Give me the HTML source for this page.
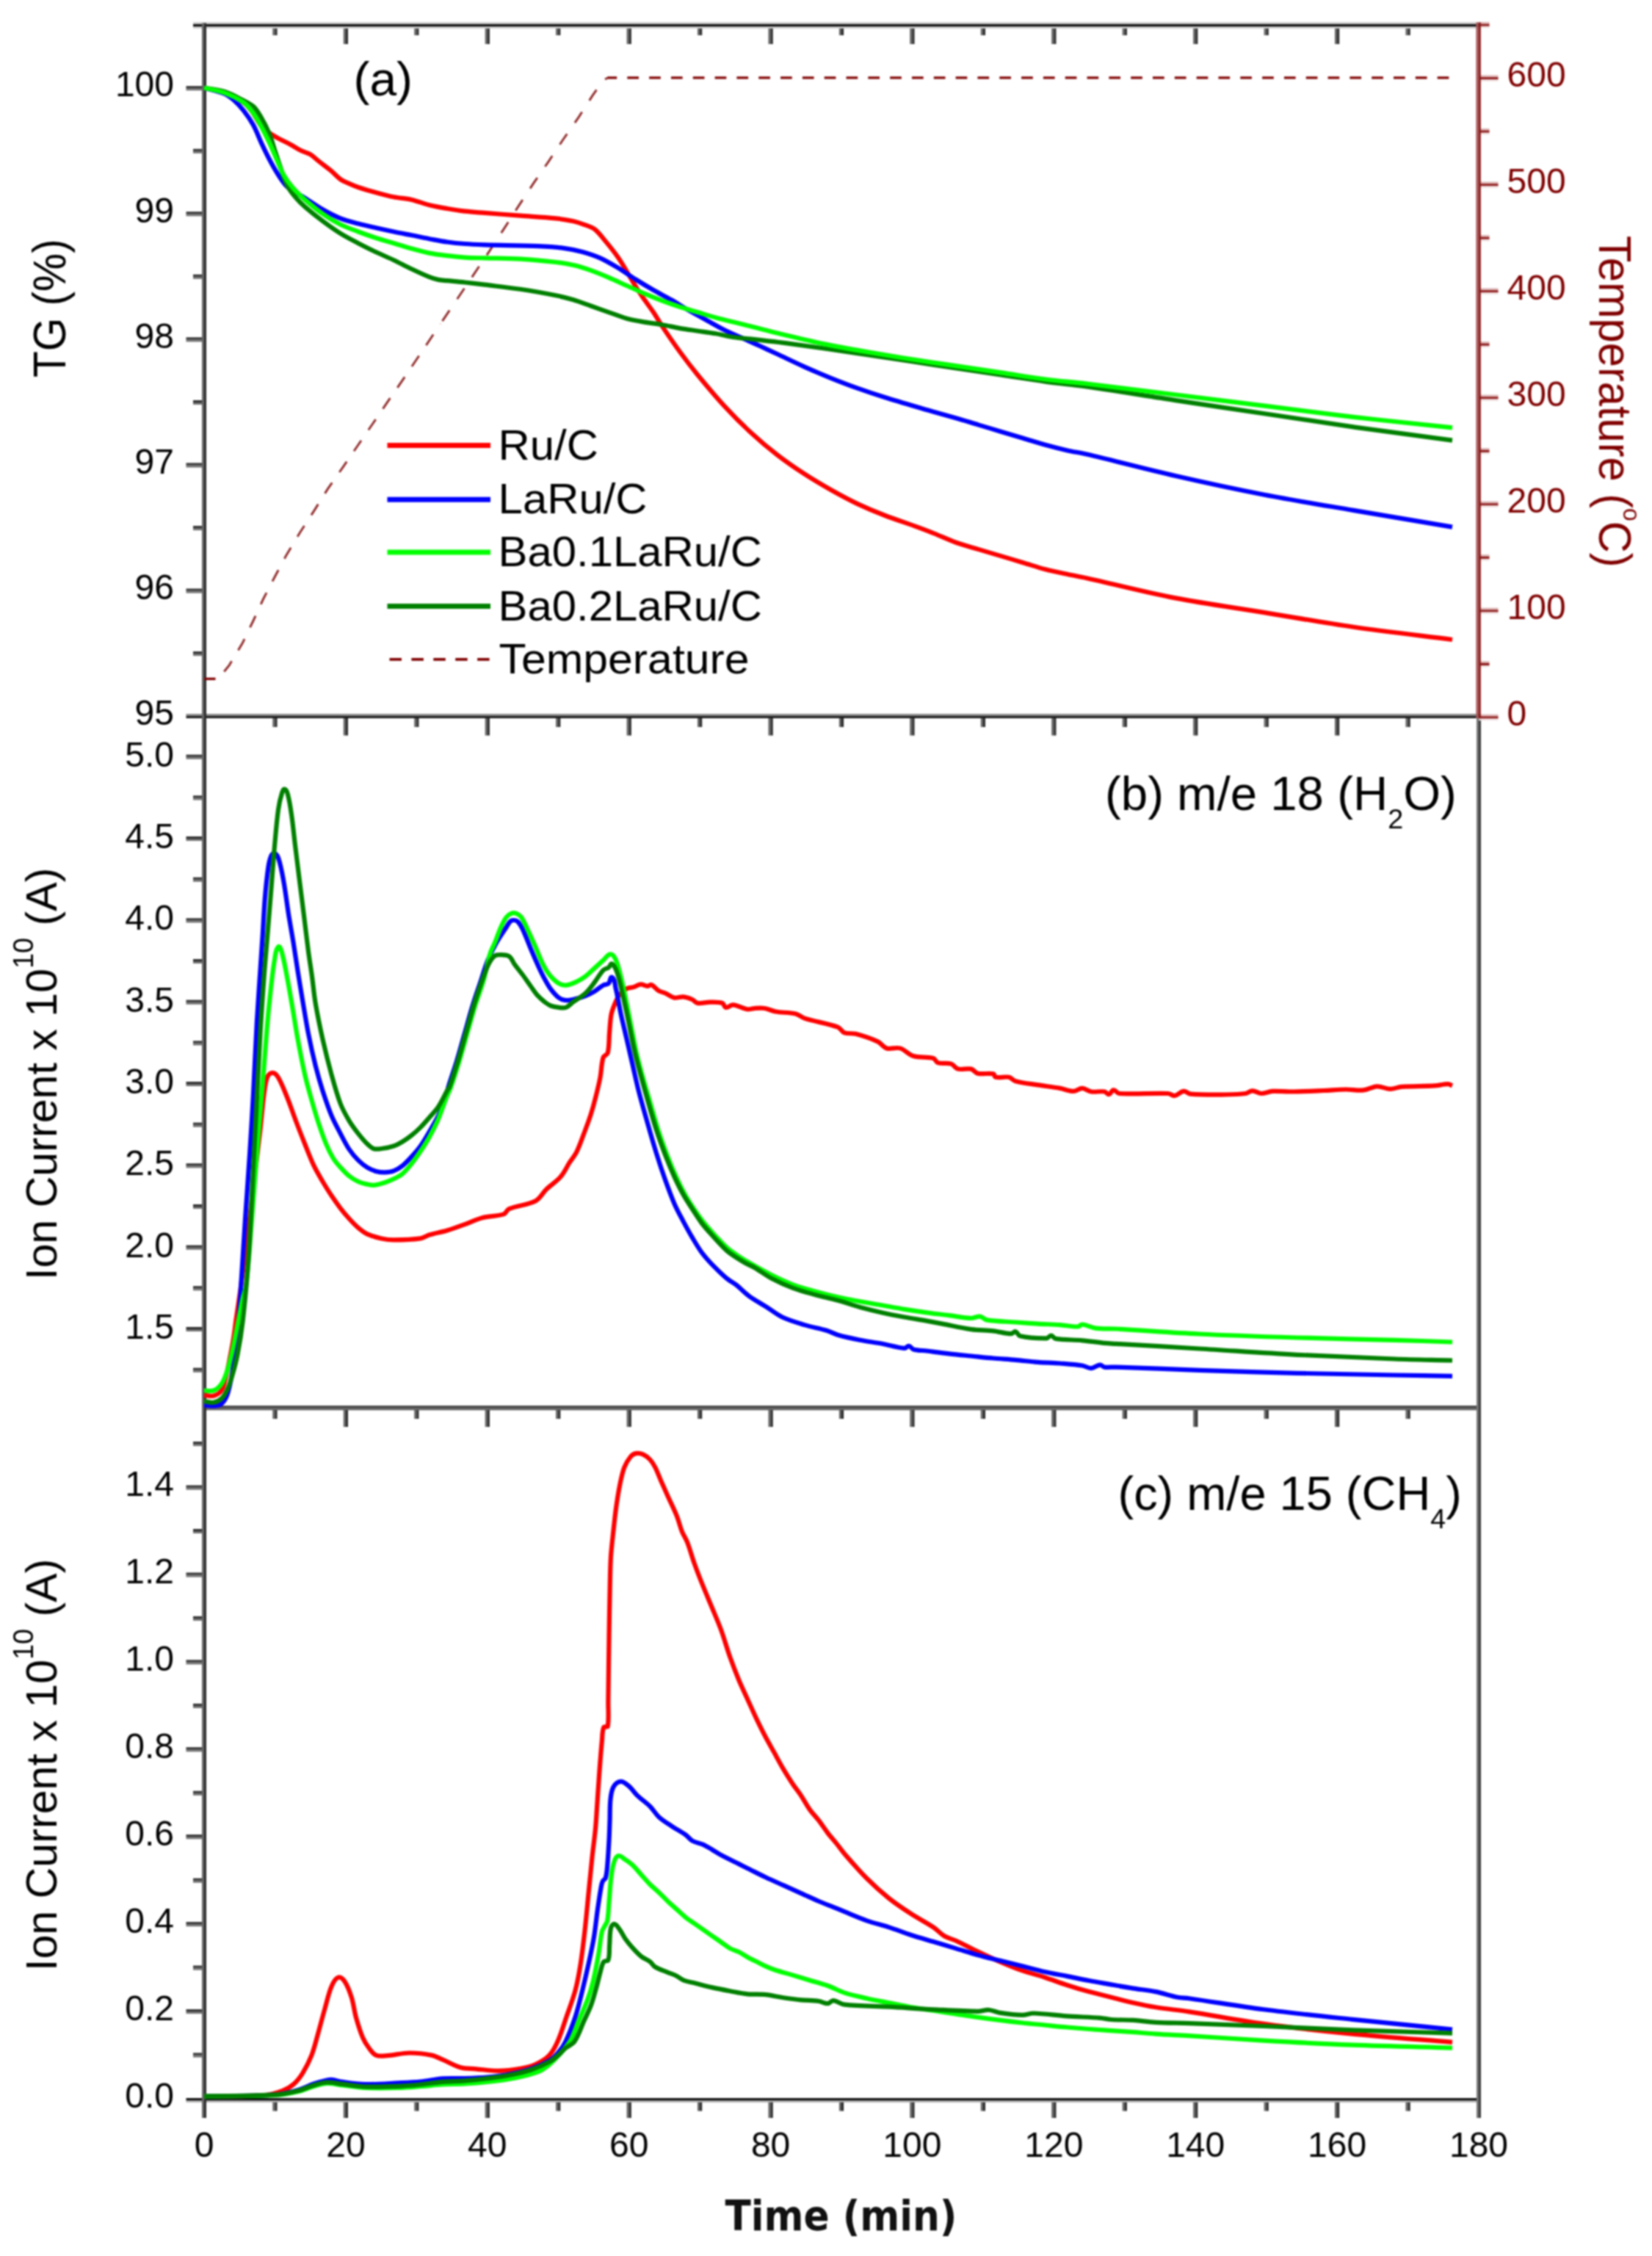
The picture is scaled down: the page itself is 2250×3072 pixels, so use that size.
<!DOCTYPE html>
<html lang="en">
<head>
<meta charset="utf-8">
<title>TG-MS profiles</title>
<style>
html,body{margin:0;padding:0;background:#fff;}
body{width:2250px;height:3072px;overflow:hidden;}
svg{display:block;filter:blur(0.8px);}
</style>
</head>
<body>
<svg width="2250" height="3072" viewBox="0 0 2250 3072">
<rect width="2250" height="3072" fill="#ffffff"/>
<g id="axes">
<rect x="371.3" y="34.5" width="3.1" height="13.5" fill="#646464"/>
<rect x="374.4" y="34.5" width="3.1" height="13.5" fill="#2a2a2a"/>
<rect x="467.8" y="34.5" width="3.1" height="25.5" fill="#646464"/>
<rect x="470.9" y="34.5" width="3.1" height="25.5" fill="#2a2a2a"/>
<rect x="564.2" y="34.5" width="3.1" height="13.5" fill="#646464"/>
<rect x="567.3" y="34.5" width="3.1" height="13.5" fill="#2a2a2a"/>
<rect x="660.7" y="34.5" width="3.1" height="25.5" fill="#646464"/>
<rect x="663.8" y="34.5" width="3.1" height="25.5" fill="#2a2a2a"/>
<rect x="757.1" y="34.5" width="3.1" height="13.5" fill="#646464"/>
<rect x="760.2" y="34.5" width="3.1" height="13.5" fill="#2a2a2a"/>
<rect x="853.6" y="34.5" width="3.1" height="25.5" fill="#646464"/>
<rect x="856.7" y="34.5" width="3.1" height="25.5" fill="#2a2a2a"/>
<rect x="950" y="34.5" width="3.1" height="13.5" fill="#646464"/>
<rect x="953.1" y="34.5" width="3.1" height="13.5" fill="#2a2a2a"/>
<rect x="1046.5" y="34.5" width="3.1" height="25.5" fill="#646464"/>
<rect x="1049.6" y="34.5" width="3.1" height="25.5" fill="#2a2a2a"/>
<rect x="1142.9" y="34.5" width="3.1" height="13.5" fill="#646464"/>
<rect x="1146" y="34.5" width="3.1" height="13.5" fill="#2a2a2a"/>
<rect x="1239.3" y="34.5" width="3.1" height="25.5" fill="#646464"/>
<rect x="1242.4" y="34.5" width="3.1" height="25.5" fill="#2a2a2a"/>
<rect x="1335.8" y="34.5" width="3.1" height="13.5" fill="#646464"/>
<rect x="1338.9" y="34.5" width="3.1" height="13.5" fill="#2a2a2a"/>
<rect x="1432.2" y="34.5" width="3.1" height="25.5" fill="#646464"/>
<rect x="1435.3" y="34.5" width="3.1" height="25.5" fill="#2a2a2a"/>
<rect x="1528.7" y="34.5" width="3.1" height="13.5" fill="#646464"/>
<rect x="1531.8" y="34.5" width="3.1" height="13.5" fill="#2a2a2a"/>
<rect x="1625.1" y="34.5" width="3.1" height="25.5" fill="#646464"/>
<rect x="1628.2" y="34.5" width="3.1" height="25.5" fill="#2a2a2a"/>
<rect x="1721.6" y="34.5" width="3.1" height="13.5" fill="#646464"/>
<rect x="1724.7" y="34.5" width="3.1" height="13.5" fill="#2a2a2a"/>
<rect x="1818" y="34.5" width="3.1" height="25.5" fill="#646464"/>
<rect x="1821.1" y="34.5" width="3.1" height="25.5" fill="#2a2a2a"/>
<rect x="1914.5" y="34.5" width="3.1" height="13.5" fill="#646464"/>
<rect x="1917.6" y="34.5" width="3.1" height="13.5" fill="#2a2a2a"/>
<rect x="371.3" y="975.5" width="3.1" height="14.5" fill="#646464"/>
<rect x="374.4" y="975.5" width="3.1" height="14.5" fill="#2a2a2a"/>
<rect x="467.8" y="975.5" width="3.1" height="26" fill="#646464"/>
<rect x="470.9" y="975.5" width="3.1" height="26" fill="#2a2a2a"/>
<rect x="564.2" y="975.5" width="3.1" height="14.5" fill="#646464"/>
<rect x="567.3" y="975.5" width="3.1" height="14.5" fill="#2a2a2a"/>
<rect x="660.7" y="975.5" width="3.1" height="26" fill="#646464"/>
<rect x="663.8" y="975.5" width="3.1" height="26" fill="#2a2a2a"/>
<rect x="757.1" y="975.5" width="3.1" height="14.5" fill="#646464"/>
<rect x="760.2" y="975.5" width="3.1" height="14.5" fill="#2a2a2a"/>
<rect x="853.6" y="975.5" width="3.1" height="26" fill="#646464"/>
<rect x="856.7" y="975.5" width="3.1" height="26" fill="#2a2a2a"/>
<rect x="950" y="975.5" width="3.1" height="14.5" fill="#646464"/>
<rect x="953.1" y="975.5" width="3.1" height="14.5" fill="#2a2a2a"/>
<rect x="1046.5" y="975.5" width="3.1" height="26" fill="#646464"/>
<rect x="1049.6" y="975.5" width="3.1" height="26" fill="#2a2a2a"/>
<rect x="1142.9" y="975.5" width="3.1" height="14.5" fill="#646464"/>
<rect x="1146" y="975.5" width="3.1" height="14.5" fill="#2a2a2a"/>
<rect x="1239.3" y="975.5" width="3.1" height="26" fill="#646464"/>
<rect x="1242.4" y="975.5" width="3.1" height="26" fill="#2a2a2a"/>
<rect x="1335.8" y="975.5" width="3.1" height="14.5" fill="#646464"/>
<rect x="1338.9" y="975.5" width="3.1" height="14.5" fill="#2a2a2a"/>
<rect x="1432.2" y="975.5" width="3.1" height="26" fill="#646464"/>
<rect x="1435.3" y="975.5" width="3.1" height="26" fill="#2a2a2a"/>
<rect x="1528.7" y="975.5" width="3.1" height="14.5" fill="#646464"/>
<rect x="1531.8" y="975.5" width="3.1" height="14.5" fill="#2a2a2a"/>
<rect x="1625.1" y="975.5" width="3.1" height="26" fill="#646464"/>
<rect x="1628.2" y="975.5" width="3.1" height="26" fill="#2a2a2a"/>
<rect x="1721.6" y="975.5" width="3.1" height="14.5" fill="#646464"/>
<rect x="1724.7" y="975.5" width="3.1" height="14.5" fill="#2a2a2a"/>
<rect x="1818" y="975.5" width="3.1" height="26" fill="#646464"/>
<rect x="1821.1" y="975.5" width="3.1" height="26" fill="#2a2a2a"/>
<rect x="1914.5" y="975.5" width="3.1" height="14.5" fill="#646464"/>
<rect x="1917.6" y="975.5" width="3.1" height="14.5" fill="#2a2a2a"/>
<rect x="371.3" y="1917" width="3.1" height="15" fill="#646464"/>
<rect x="374.4" y="1917" width="3.1" height="15" fill="#2a2a2a"/>
<rect x="467.8" y="1917" width="3.1" height="26" fill="#646464"/>
<rect x="470.9" y="1917" width="3.1" height="26" fill="#2a2a2a"/>
<rect x="564.2" y="1917" width="3.1" height="15" fill="#646464"/>
<rect x="567.3" y="1917" width="3.1" height="15" fill="#2a2a2a"/>
<rect x="660.7" y="1917" width="3.1" height="26" fill="#646464"/>
<rect x="663.8" y="1917" width="3.1" height="26" fill="#2a2a2a"/>
<rect x="757.1" y="1917" width="3.1" height="15" fill="#646464"/>
<rect x="760.2" y="1917" width="3.1" height="15" fill="#2a2a2a"/>
<rect x="853.6" y="1917" width="3.1" height="26" fill="#646464"/>
<rect x="856.7" y="1917" width="3.1" height="26" fill="#2a2a2a"/>
<rect x="950" y="1917" width="3.1" height="15" fill="#646464"/>
<rect x="953.1" y="1917" width="3.1" height="15" fill="#2a2a2a"/>
<rect x="1046.5" y="1917" width="3.1" height="26" fill="#646464"/>
<rect x="1049.6" y="1917" width="3.1" height="26" fill="#2a2a2a"/>
<rect x="1142.9" y="1917" width="3.1" height="15" fill="#646464"/>
<rect x="1146" y="1917" width="3.1" height="15" fill="#2a2a2a"/>
<rect x="1239.3" y="1917" width="3.1" height="26" fill="#646464"/>
<rect x="1242.4" y="1917" width="3.1" height="26" fill="#2a2a2a"/>
<rect x="1335.8" y="1917" width="3.1" height="15" fill="#646464"/>
<rect x="1338.9" y="1917" width="3.1" height="15" fill="#2a2a2a"/>
<rect x="1432.2" y="1917" width="3.1" height="26" fill="#646464"/>
<rect x="1435.3" y="1917" width="3.1" height="26" fill="#2a2a2a"/>
<rect x="1528.7" y="1917" width="3.1" height="15" fill="#646464"/>
<rect x="1531.8" y="1917" width="3.1" height="15" fill="#2a2a2a"/>
<rect x="1625.1" y="1917" width="3.1" height="26" fill="#646464"/>
<rect x="1628.2" y="1917" width="3.1" height="26" fill="#2a2a2a"/>
<rect x="1721.6" y="1917" width="3.1" height="15" fill="#646464"/>
<rect x="1724.7" y="1917" width="3.1" height="15" fill="#2a2a2a"/>
<rect x="1818" y="1917" width="3.1" height="26" fill="#646464"/>
<rect x="1821.1" y="1917" width="3.1" height="26" fill="#2a2a2a"/>
<rect x="1914.5" y="1917" width="3.1" height="15" fill="#646464"/>
<rect x="1917.6" y="1917" width="3.1" height="15" fill="#2a2a2a"/>
<rect x="371.3" y="2858" width="3.1" height="16.5" fill="#646464"/>
<rect x="374.4" y="2858" width="3.1" height="16.5" fill="#2a2a2a"/>
<rect x="467.8" y="2858" width="3.1" height="26" fill="#646464"/>
<rect x="470.9" y="2858" width="3.1" height="26" fill="#2a2a2a"/>
<rect x="564.2" y="2858" width="3.1" height="16.5" fill="#646464"/>
<rect x="567.3" y="2858" width="3.1" height="16.5" fill="#2a2a2a"/>
<rect x="660.7" y="2858" width="3.1" height="26" fill="#646464"/>
<rect x="663.8" y="2858" width="3.1" height="26" fill="#2a2a2a"/>
<rect x="757.1" y="2858" width="3.1" height="16.5" fill="#646464"/>
<rect x="760.2" y="2858" width="3.1" height="16.5" fill="#2a2a2a"/>
<rect x="853.6" y="2858" width="3.1" height="26" fill="#646464"/>
<rect x="856.7" y="2858" width="3.1" height="26" fill="#2a2a2a"/>
<rect x="950" y="2858" width="3.1" height="16.5" fill="#646464"/>
<rect x="953.1" y="2858" width="3.1" height="16.5" fill="#2a2a2a"/>
<rect x="1046.5" y="2858" width="3.1" height="26" fill="#646464"/>
<rect x="1049.6" y="2858" width="3.1" height="26" fill="#2a2a2a"/>
<rect x="1142.9" y="2858" width="3.1" height="16.5" fill="#646464"/>
<rect x="1146" y="2858" width="3.1" height="16.5" fill="#2a2a2a"/>
<rect x="1239.3" y="2858" width="3.1" height="26" fill="#646464"/>
<rect x="1242.4" y="2858" width="3.1" height="26" fill="#2a2a2a"/>
<rect x="1335.8" y="2858" width="3.1" height="16.5" fill="#646464"/>
<rect x="1338.9" y="2858" width="3.1" height="16.5" fill="#2a2a2a"/>
<rect x="1432.2" y="2858" width="3.1" height="26" fill="#646464"/>
<rect x="1435.3" y="2858" width="3.1" height="26" fill="#2a2a2a"/>
<rect x="1528.7" y="2858" width="3.1" height="16.5" fill="#646464"/>
<rect x="1531.8" y="2858" width="3.1" height="16.5" fill="#2a2a2a"/>
<rect x="1625.1" y="2858" width="3.1" height="26" fill="#646464"/>
<rect x="1628.2" y="2858" width="3.1" height="26" fill="#2a2a2a"/>
<rect x="1721.6" y="2858" width="3.1" height="16.5" fill="#646464"/>
<rect x="1724.7" y="2858" width="3.1" height="16.5" fill="#2a2a2a"/>
<rect x="1818" y="2858" width="3.1" height="26" fill="#646464"/>
<rect x="1821.1" y="2858" width="3.1" height="26" fill="#2a2a2a"/>
<rect x="1914.5" y="2858" width="3.1" height="16.5" fill="#646464"/>
<rect x="1917.6" y="2858" width="3.1" height="16.5" fill="#2a2a2a"/>
<rect x="253.5" y="801.6" width="24.5" height="3" fill="#2e2e2e"/>
<rect x="253.5" y="804.6" width="24.5" height="3" fill="#707070"/>
<rect x="253.5" y="630.5" width="24.5" height="3" fill="#2e2e2e"/>
<rect x="253.5" y="633.5" width="24.5" height="3" fill="#707070"/>
<rect x="253.5" y="459.4" width="24.5" height="3" fill="#2e2e2e"/>
<rect x="253.5" y="462.4" width="24.5" height="3" fill="#707070"/>
<rect x="253.5" y="288.3" width="24.5" height="3" fill="#2e2e2e"/>
<rect x="253.5" y="291.3" width="24.5" height="3" fill="#707070"/>
<rect x="253.5" y="117.2" width="24.5" height="3" fill="#2e2e2e"/>
<rect x="253.5" y="120.2" width="24.5" height="3" fill="#707070"/>
<rect x="263" y="887.1" width="15" height="3" fill="#2e2e2e"/>
<rect x="263" y="890.1" width="15" height="3" fill="#707070"/>
<rect x="263" y="716.1" width="15" height="3" fill="#2e2e2e"/>
<rect x="263" y="719.1" width="15" height="3" fill="#707070"/>
<rect x="263" y="545" width="15" height="3" fill="#2e2e2e"/>
<rect x="263" y="548" width="15" height="3" fill="#707070"/>
<rect x="263" y="373.8" width="15" height="3" fill="#2e2e2e"/>
<rect x="263" y="376.8" width="15" height="3" fill="#707070"/>
<rect x="263" y="202.8" width="15" height="3" fill="#2e2e2e"/>
<rect x="263" y="205.8" width="15" height="3" fill="#707070"/>
<rect x="253.5" y="1807" width="24.5" height="3" fill="#2e2e2e"/>
<rect x="253.5" y="1810" width="24.5" height="3" fill="#707070"/>
<rect x="253.5" y="1695.7" width="24.5" height="3" fill="#2e2e2e"/>
<rect x="253.5" y="1698.7" width="24.5" height="3" fill="#707070"/>
<rect x="253.5" y="1584.3" width="24.5" height="3" fill="#2e2e2e"/>
<rect x="253.5" y="1587.3" width="24.5" height="3" fill="#707070"/>
<rect x="253.5" y="1473" width="24.5" height="3" fill="#2e2e2e"/>
<rect x="253.5" y="1476" width="24.5" height="3" fill="#707070"/>
<rect x="253.5" y="1361.7" width="24.5" height="3" fill="#2e2e2e"/>
<rect x="253.5" y="1364.7" width="24.5" height="3" fill="#707070"/>
<rect x="253.5" y="1250.4" width="24.5" height="3" fill="#2e2e2e"/>
<rect x="253.5" y="1253.4" width="24.5" height="3" fill="#707070"/>
<rect x="253.5" y="1139" width="24.5" height="3" fill="#2e2e2e"/>
<rect x="253.5" y="1142" width="24.5" height="3" fill="#707070"/>
<rect x="253.5" y="1027.7" width="24.5" height="3" fill="#2e2e2e"/>
<rect x="253.5" y="1030.7" width="24.5" height="3" fill="#707070"/>
<rect x="263" y="1862.7" width="15" height="3" fill="#2e2e2e"/>
<rect x="263" y="1865.7" width="15" height="3" fill="#707070"/>
<rect x="263" y="1751.3" width="15" height="3" fill="#2e2e2e"/>
<rect x="263" y="1754.3" width="15" height="3" fill="#707070"/>
<rect x="263" y="1640" width="15" height="3" fill="#2e2e2e"/>
<rect x="263" y="1643" width="15" height="3" fill="#707070"/>
<rect x="263" y="1528.7" width="15" height="3" fill="#2e2e2e"/>
<rect x="263" y="1531.7" width="15" height="3" fill="#707070"/>
<rect x="263" y="1417.4" width="15" height="3" fill="#2e2e2e"/>
<rect x="263" y="1420.4" width="15" height="3" fill="#707070"/>
<rect x="263" y="1306" width="15" height="3" fill="#2e2e2e"/>
<rect x="263" y="1309" width="15" height="3" fill="#707070"/>
<rect x="263" y="1194.7" width="15" height="3" fill="#2e2e2e"/>
<rect x="263" y="1197.7" width="15" height="3" fill="#707070"/>
<rect x="263" y="1083.4" width="15" height="3" fill="#2e2e2e"/>
<rect x="263" y="1086.4" width="15" height="3" fill="#707070"/>
<rect x="253.5" y="2736.1" width="24.5" height="3" fill="#2e2e2e"/>
<rect x="253.5" y="2739.1" width="24.5" height="3" fill="#707070"/>
<rect x="253.5" y="2617.2" width="24.5" height="3" fill="#2e2e2e"/>
<rect x="253.5" y="2620.2" width="24.5" height="3" fill="#707070"/>
<rect x="253.5" y="2498.2" width="24.5" height="3" fill="#2e2e2e"/>
<rect x="253.5" y="2501.2" width="24.5" height="3" fill="#707070"/>
<rect x="253.5" y="2379.3" width="24.5" height="3" fill="#2e2e2e"/>
<rect x="253.5" y="2382.3" width="24.5" height="3" fill="#707070"/>
<rect x="253.5" y="2260.4" width="24.5" height="3" fill="#2e2e2e"/>
<rect x="253.5" y="2263.4" width="24.5" height="3" fill="#707070"/>
<rect x="253.5" y="2141.5" width="24.5" height="3" fill="#2e2e2e"/>
<rect x="253.5" y="2144.5" width="24.5" height="3" fill="#707070"/>
<rect x="253.5" y="2022.6" width="24.5" height="3" fill="#2e2e2e"/>
<rect x="253.5" y="2025.6" width="24.5" height="3" fill="#707070"/>
<rect x="263" y="2795.5" width="15" height="3" fill="#2e2e2e"/>
<rect x="263" y="2798.5" width="15" height="3" fill="#707070"/>
<rect x="263" y="2676.6" width="15" height="3" fill="#2e2e2e"/>
<rect x="263" y="2679.6" width="15" height="3" fill="#707070"/>
<rect x="263" y="2557.7" width="15" height="3" fill="#2e2e2e"/>
<rect x="263" y="2560.7" width="15" height="3" fill="#707070"/>
<rect x="263" y="2438.8" width="15" height="3" fill="#2e2e2e"/>
<rect x="263" y="2441.8" width="15" height="3" fill="#707070"/>
<rect x="263" y="2319.9" width="15" height="3" fill="#2e2e2e"/>
<rect x="263" y="2322.9" width="15" height="3" fill="#707070"/>
<rect x="263" y="2200.9" width="15" height="3" fill="#2e2e2e"/>
<rect x="263" y="2203.9" width="15" height="3" fill="#707070"/>
<rect x="263" y="2082" width="15" height="3" fill="#2e2e2e"/>
<rect x="263" y="2085" width="15" height="3" fill="#707070"/>
<rect x="263" y="1963.1" width="15" height="3" fill="#2e2e2e"/>
<rect x="263" y="1966.1" width="15" height="3" fill="#707070"/>
<rect x="263" y="30.2" width="1751" height="2.8" fill="#c8c8c8"/>
<rect x="263" y="33" width="1751" height="3" fill="#0a0a0a"/>
<rect x="263" y="36" width="1751" height="2.8" fill="#c8c8c8"/>
<rect x="253.5" y="972" width="1763.5" height="3" fill="#8c8c8c"/>
<rect x="253.5" y="975" width="1763.5" height="3" fill="#1c1c1c"/>
<rect x="275" y="1914" width="1742" height="3" fill="#4a4a4a"/>
<rect x="275" y="1917" width="1742" height="3.3" fill="#666666"/>
<rect x="253.5" y="2857" width="1763.5" height="3" fill="#0a0a0a"/>
<rect x="253.5" y="2860" width="1763.5" height="2.8" fill="#aaaaaa"/>
<rect x="275" y="31.5" width="3" height="2852.5" fill="#666666"/>
<rect x="278" y="31.5" width="3" height="2852.5" fill="#2c2c2c"/>
<rect x="2011" y="975.5" width="3" height="1908.5" fill="#777777"/>
<rect x="2014" y="975.5" width="3" height="1908.5" fill="#3c3c3c"/>
<rect x="2014" y="972.7" width="26.5" height="2.8" fill="#dbb4b4"/>
<rect x="2014" y="975.5" width="26.5" height="3" fill="#8a1212"/>
<rect x="2014" y="978.5" width="26.5" height="2.6" fill="#f0e0e0"/>
<rect x="2014" y="827.7" width="26.5" height="2.8" fill="#dbb4b4"/>
<rect x="2014" y="830.5" width="26.5" height="3" fill="#8a1212"/>
<rect x="2014" y="833.5" width="26.5" height="2.6" fill="#f0e0e0"/>
<rect x="2014" y="682.6" width="26.5" height="2.8" fill="#dbb4b4"/>
<rect x="2014" y="685.4" width="26.5" height="3" fill="#8a1212"/>
<rect x="2014" y="688.4" width="26.5" height="2.6" fill="#f0e0e0"/>
<rect x="2014" y="537.6" width="26.5" height="2.8" fill="#dbb4b4"/>
<rect x="2014" y="540.4" width="26.5" height="3" fill="#8a1212"/>
<rect x="2014" y="543.4" width="26.5" height="2.6" fill="#f0e0e0"/>
<rect x="2014" y="392.5" width="26.5" height="2.8" fill="#dbb4b4"/>
<rect x="2014" y="395.3" width="26.5" height="3" fill="#8a1212"/>
<rect x="2014" y="398.3" width="26.5" height="2.6" fill="#f0e0e0"/>
<rect x="2014" y="247.5" width="26.5" height="2.8" fill="#dbb4b4"/>
<rect x="2014" y="250.3" width="26.5" height="3" fill="#8a1212"/>
<rect x="2014" y="253.3" width="26.5" height="2.6" fill="#f0e0e0"/>
<rect x="2014" y="102.4" width="26.5" height="2.8" fill="#dbb4b4"/>
<rect x="2014" y="105.2" width="26.5" height="3" fill="#8a1212"/>
<rect x="2014" y="108.2" width="26.5" height="2.6" fill="#f0e0e0"/>
<rect x="2014" y="900.2" width="14.5" height="2.8" fill="#dbb4b4"/>
<rect x="2014" y="903" width="14.5" height="3" fill="#8a1212"/>
<rect x="2014" y="906" width="14.5" height="2.6" fill="#f0e0e0"/>
<rect x="2014" y="755.1" width="14.5" height="2.8" fill="#dbb4b4"/>
<rect x="2014" y="757.9" width="14.5" height="3" fill="#8a1212"/>
<rect x="2014" y="760.9" width="14.5" height="2.6" fill="#f0e0e0"/>
<rect x="2014" y="610.1" width="14.5" height="2.8" fill="#dbb4b4"/>
<rect x="2014" y="612.9" width="14.5" height="3" fill="#8a1212"/>
<rect x="2014" y="615.9" width="14.5" height="2.6" fill="#f0e0e0"/>
<rect x="2014" y="465" width="14.5" height="2.8" fill="#dbb4b4"/>
<rect x="2014" y="467.8" width="14.5" height="3" fill="#8a1212"/>
<rect x="2014" y="470.8" width="14.5" height="2.6" fill="#f0e0e0"/>
<rect x="2014" y="320" width="14.5" height="2.8" fill="#dbb4b4"/>
<rect x="2014" y="322.8" width="14.5" height="3" fill="#8a1212"/>
<rect x="2014" y="325.8" width="14.5" height="2.6" fill="#f0e0e0"/>
<rect x="2014" y="174.9" width="14.5" height="2.8" fill="#dbb4b4"/>
<rect x="2014" y="177.7" width="14.5" height="3" fill="#8a1212"/>
<rect x="2014" y="180.7" width="14.5" height="2.6" fill="#f0e0e0"/>
<rect x="2014" y="29.9" width="14.5" height="2.8" fill="#dbb4b4"/>
<rect x="2014" y="32.7" width="14.5" height="3" fill="#8a1212"/>
<rect x="2014" y="35.7" width="14.5" height="2.6" fill="#f0e0e0"/>
<rect x="2010.4" y="30.5" width="3.2" height="947.5" fill="#ac5858"/>
<rect x="2013.6" y="30.5" width="3.2" height="947.5" fill="#861c1c"/>
</g>
<g id="curves-a">
<path d="M278 924.4H293.5" fill="none" stroke="#800000" stroke-width="3.3"/>
<path d="M300 921L312.4 905.6L330.5 875.3L345.1 845L358.4 816L374.1 785.7L390.3 755.4L408.5 725.2L427.4 696.1L446.3 665.9L466.6 636.8L487.4 606.5L507.3 577.5L527.1 548.4L548 518.2L600 440.9" fill="none" stroke="#943030" stroke-width="3.0" stroke-dasharray="17.50 17.41" stroke-dashoffset="26.52"/>
<path d="M600 440.9L667.3 340.9L687.8 309.4L707.2 279.1L727.1 248.9L747.2 219.8L767.3 189.5L788.3 159.3L807 130.2L821 110L827.1 106.2" fill="none" stroke="#943030" stroke-width="3.0" stroke-dasharray="17.50 18.60" stroke-dashoffset="31.63"/>
<path d="M827.1 105.8H1975" fill="none" stroke="#800000" stroke-width="3.2" stroke-dasharray="15.7 14.12" stroke-dashoffset="2.6"/>
<path d="M278 119.5C287.4 122 297.2 123.6 306.3 127C314.7 130.1 323 134 330.5 139C335.2 142.1 339.1 146.5 342.6 151C347.2 156.9 350 164.2 354.7 170C358.2 174.3 362.5 177.8 366.9 181.1C370.7 183.9 374.9 186.1 379 188.4C384.5 191.4 390.3 193.9 395.9 196.9C400.8 199.5 405.4 202.8 410.4 205.3C414.3 207.2 418.8 208 422.5 210.2C426.9 212.9 430.5 216.7 434.6 219.9C440.2 224.4 446.1 228.6 451.6 233.2C455.8 236.7 459.2 241 463.7 244.1C467.4 246.7 471.7 248.3 475.8 250.1C479.8 251.9 483.8 253.6 487.9 255C495.9 257.7 504 260 512.1 262.2C520.1 264.4 528.1 266.7 536.3 268.3C544.3 269.9 552.5 270.1 560.5 271.9C568.7 273.8 576.5 277.2 584.7 279.2C592.7 281.2 600.9 282.6 609 284C617 285.4 625.1 286.8 633.2 287.7C642.1 288.7 651.1 289.2 660 289.9C676.1 291.2 692.3 292.5 708.4 293.7C724.6 294.9 740.8 295.6 756.9 297.3C765 298.1 773 299.6 781 301.3C786 302.4 790.8 304 795.6 305.8C800.5 307.7 805.9 309 810.1 312.2C815.8 316.7 820 322.8 824.6 328.4C830.5 335.5 836.3 342.7 841.6 350.2C846 356.4 849.8 363.1 853.7 369.6C857.8 376.4 861.6 383.4 865.8 390.2C869.6 396.4 873.8 402.3 877.9 408.3C881.8 414 886.1 419.5 890 425.3C894.2 431.6 897.9 438.3 902.1 444.6C910 456.4 918 468.1 926.3 479.5C934.1 490.2 942.2 500.7 950.6 511C962.2 525.1 973.9 539.2 986.3 552.6C997.9 565.2 1010 577.4 1022.6 589C1034.3 599.8 1046.4 610.1 1059 619.8C1070.7 628.8 1082.9 637.2 1095.3 645.2C1107.1 652.9 1119.3 660.1 1131.6 667C1143.5 673.7 1155.6 680.2 1167.9 686.1C1179.8 691.7 1191.9 696.8 1204.2 701.5C1219.3 707.4 1234.8 712.3 1250 717.9C1257.5 720.7 1265 723.5 1272.4 726.5C1282.5 730.6 1292.4 735.3 1302.7 739C1312.6 742.5 1322.8 745.1 1332.9 748.1C1343 751.1 1353.1 754.1 1363.2 757.1C1373.3 760.1 1383.4 763.2 1393.5 766.2C1403.6 769.2 1413.5 772.6 1423.7 775.3C1433.7 777.9 1443.9 779.9 1454 782C1462.6 783.8 1471.4 785.3 1480 787.2C1520.4 796.1 1560.4 806.5 1601 814.4C1641.2 822.2 1681.7 827.5 1722.1 834.1C1762.5 840.7 1802.7 848 1843.2 853.8C1888 860.3 1933.1 865.3 1978 871" fill="none" stroke="#ff0000" stroke-width="6.2" stroke-linejoin="round" stroke-linecap="butt" />
<path d="M278 119.5C287.4 122.3 297.2 124 306.3 127.8C310.9 129.7 314.7 133 318.4 136.3C323.3 140.7 327.9 145.6 332 150.8C336.8 156.9 341.3 163.4 345 170.2C349.7 178.8 352.8 188.1 357 196.9C360.8 205 364.7 213.1 369 221C372.6 227.6 376.3 234.2 380.5 240.4C384 245.5 387.2 251 392 255C399 260.9 407.6 264.6 415.3 269.5C423.4 274.7 431.2 280.4 439.5 285.2C447.3 289.7 455.3 293.9 463.7 297.3C471.5 300.4 479.8 302.4 487.9 304.6C495.9 306.7 504 308.4 512.1 310.2C520.2 312 528.2 313.8 536.3 315.5C544.4 317.2 552.4 318.7 560.5 320.3C568.6 321.9 576.6 323.7 584.7 325.2C592.8 326.7 600.9 328.4 609 329.5C617 330.6 625.1 331.4 633.2 332C642.1 332.7 651.1 333 660 333.3C684.2 334.1 708.4 334.1 732.6 335.2C744.8 335.7 756.9 336.5 769 338.1C777.2 339.2 785.3 340.8 793.2 343C801.4 345.3 809.6 347.9 817.4 351.4C825.8 355.2 833.7 360 841.6 364.7C849.9 369.7 857.6 375.4 865.8 380.5C873.8 385.5 881.8 390.3 890 395C898 399.6 906.2 403.7 914.2 408.3C922.4 413 930.3 418.2 938.5 422.9C946.5 427.5 954.6 431.8 962.7 436.2C970.8 440.6 978.7 445.4 986.9 449.5C994.8 453.5 1003 456.8 1011.1 460.4C1019.2 464 1027.3 467.6 1035.3 471.3C1043.4 475 1051.4 478.7 1059.5 482.5C1071.4 488.1 1083.3 493.9 1095.3 499.3C1107.3 504.7 1119.4 509.9 1131.6 514.8C1143.6 519.6 1155.7 524.3 1167.9 528.6C1179.9 532.9 1192 536.9 1204.2 540.7C1219.4 545.5 1234.7 550 1250 554.5C1257.5 556.7 1264.9 558.9 1272.4 561C1282.5 563.9 1292.6 566.6 1302.7 569.5C1312.8 572.4 1322.8 575.6 1332.9 578.6C1343 581.6 1353.1 584.7 1363.2 587.7C1373.3 590.7 1383.4 593.7 1393.5 596.7C1403.6 599.7 1413.6 603 1423.7 605.8C1433.7 608.6 1443.8 611.1 1454 613.4C1462.6 615.3 1471.4 616.5 1480 618.5C1520.4 628 1560.5 638.8 1601 648C1641.2 657.2 1681.6 665.9 1722.1 673.7C1762.3 681.5 1802.8 688 1843.2 694.9C1888.1 702.6 1933.1 710 1978 717.6" fill="none" stroke="#0000ff" stroke-width="6.2" stroke-linejoin="round" stroke-linecap="butt" />
<path d="M278 119.5C287.4 121.3 297.1 122.1 306.3 125C314.8 127.7 322.6 132.2 330.5 136.3C335.5 138.9 340.8 141.1 345 144.8C349.1 148.5 351.9 153.4 354.7 158.1C359.3 165.9 363.4 174 366.9 182.3C369.9 189.4 371.7 196.8 374.1 204.1C376.5 211.4 378.9 218.7 381.4 225.9C384.5 234.8 386.8 244.1 391 252.5C394.1 258.7 398.7 264.1 403.2 269.5C406.9 273.9 411 277.9 415.3 281.6C423.1 288.4 431.2 294.8 439.5 301C447.4 306.9 455.4 312.7 463.7 317.9C471.5 322.8 479.7 326.9 487.9 331.2C495.9 335.4 504 339.4 512.1 343.3C520.1 347.1 528.3 350.4 536.3 354.2C544.4 358.1 552.4 362.4 560.5 366.3C568.5 370.1 576.5 373.9 584.7 377.2C588.6 378.8 592.7 380.1 596.9 380.9C600.9 381.7 605 381.7 609 382.1C617.1 382.9 625.1 383.6 633.2 384.5C642.1 385.5 651.1 386.6 660 387.7C676.1 389.7 692.3 391.4 708.4 393.8C724.6 396.2 740.8 399.1 756.9 402.3C765 403.9 773.1 405.9 781 408.3C789.2 410.8 797.2 414 805.3 416.8C813.4 419.6 821.4 422.5 829.5 425.3C837.6 428.1 845.5 431.5 853.7 433.8C861.6 436 869.8 437.2 877.9 438.6C885.9 440 894.1 440.8 902.1 442.2C910.2 443.6 918.2 445.7 926.3 447.1C934.4 448.5 942.5 449.5 950.6 450.7C958.7 451.9 966.8 452.9 974.8 454.3C982.9 455.7 990.9 458 999 459.2C1007 460.4 1015.1 460.7 1023.2 461.6C1035.6 463 1048.1 464.4 1060.5 466C1080.7 468.6 1100.9 471.3 1121 474.2C1141.2 477.1 1161.4 480.2 1181.6 483.2C1201.8 486.2 1221.9 489.3 1242.1 492.3C1262.3 495.3 1282.5 498.4 1302.7 501.4C1322.9 504.4 1343 507.5 1363.2 510.5C1383.4 513.5 1403.5 516.8 1423.7 519.6C1442.4 522.2 1461.3 523.8 1480 526.5C1520.4 532.3 1560.7 539 1601 545.1C1641.4 551.2 1681.7 557.2 1722.1 563.2C1762.5 569.3 1802.8 575.7 1843.2 581.4C1888.1 587.8 1933.1 593.5 1978 599.6" fill="none" stroke="#008000" stroke-width="6.2" stroke-linejoin="round" stroke-linecap="butt" />
<path d="M278 119.5C287.4 121.9 297.2 123.3 306.3 126.6C314.8 129.7 323 133.7 330.5 138.7C335.2 141.9 339.1 146.3 342.6 150.8C347.2 156.8 351 163.5 354.7 170.2C359.1 178.1 363 186.2 366.9 194.4C370.3 201.6 373.3 208.9 376.5 216.2C379.7 223.5 382.3 231.1 386.2 238C389.6 244.1 393.8 249.7 398.3 255C403.5 261.1 409.3 266.6 415.3 271.9C423.1 278.7 431 285.4 439.5 291.3C447.2 296.7 455.3 301.6 463.7 305.8C471.5 309.7 479.8 312.4 487.9 315.5C495.9 318.5 504 321.4 512.1 324C520.1 326.6 528.2 328.8 536.3 331.2C544.4 333.6 552.4 336.3 560.5 338.5C568.5 340.7 576.5 343 584.7 344.6C592.7 346.2 600.9 347.2 609 348.2C617 349.2 625.1 350.1 633.2 350.6C642.1 351.2 651.1 351.2 660 351.4C676.1 351.8 692.3 351.7 708.4 352.6C724.6 353.5 740.8 355.1 756.9 357C765 357.9 773.1 359.2 781 361.1C789.2 363 797.3 365.6 805.3 368.4C813.5 371.3 821.5 374.7 829.5 378.1C837.6 381.6 845.6 385.4 853.7 389C861.8 392.6 869.8 396.4 877.9 399.9C885.9 403.3 894 406.5 902.1 409.5C910.1 412.5 918.2 415.4 926.3 418C934.3 420.6 942.5 422.9 950.6 425.3C958.7 427.7 966.7 430.3 974.8 432.5C982.8 434.7 990.9 436.6 999 438.6C1007.1 440.6 1015.1 442.6 1023.2 444.6C1035.6 447.7 1048 451 1060.5 454C1080.6 458.8 1100.7 463.9 1121 468.1C1141.1 472.3 1161.4 475.8 1181.6 479.3C1201.7 482.8 1221.9 486.1 1242.1 489.3C1262.3 492.5 1282.5 495.4 1302.7 498.4C1322.9 501.4 1343 504.4 1363.2 507.4C1383.4 510.4 1403.5 513.9 1423.7 516.5C1442.4 518.9 1461.3 520.3 1480 522.5C1520.4 527.3 1560.7 532.5 1601 537.5C1641.4 542.5 1681.7 547.6 1722.1 552.6C1762.5 557.7 1802.8 563.1 1843.2 567.8C1888.1 573 1933.1 577.5 1978 582.3" fill="none" stroke="#00ff00" stroke-width="6.2" stroke-linejoin="round" stroke-linecap="butt" />
</g>
<g id="curves-b">
<path d="M278 1899.8C282.2 1900.1 286.6 1901.8 290.7 1900.7C294.9 1899.6 299.2 1897.1 301.7 1893.5C305 1888.8 305.6 1882.7 307.1 1877.1C309.3 1868.7 310.9 1860.2 312.6 1851.7C314.5 1842 316.4 1832.3 318 1822.6C319.5 1813.6 320.4 1804.5 321.7 1795.4C323.4 1783.3 325.4 1771.2 327.1 1759.1C329.2 1744.4 331.1 1729.7 333 1715C335.4 1696.7 337.8 1678.3 340 1660C342.4 1640 344.6 1620 347 1600C349.5 1578.8 352.3 1557.5 354.7 1536.3C356.5 1520.9 357.5 1505.4 359.6 1490C360.7 1482 361.3 1473.6 364.4 1466.1C365.6 1463.3 368.7 1460.6 371.7 1460.8C374.9 1461.1 377.4 1464.5 379 1467.3C383.9 1475.7 387.3 1485 391 1494C395.4 1504.9 399 1516 403.2 1527C407.1 1537.4 411.2 1547.7 415.3 1558C419.2 1567.8 422.9 1577.7 427.4 1587.2C431 1594.7 435.3 1601.8 439.5 1609C443.4 1615.5 447.4 1622 451.6 1628.3C455.5 1634.1 459.5 1639.8 463.7 1645.3C467.5 1650.3 471.6 1655.1 475.8 1659.8C479.6 1664 483.6 1668.2 487.9 1671.9C491.7 1675.1 495.5 1678.3 500 1680.4C506.1 1683.2 512.8 1684.9 519.4 1686.4C524.9 1687.6 530.6 1688.4 536.3 1688.4C548.5 1688.4 560.7 1688.1 572.7 1686.4C577 1685.8 580.6 1682.8 584.7 1681.6C592.7 1679.2 601 1677.9 609 1675.5C617.2 1673.1 625.2 1670 633.2 1667.1C641.1 1664.2 648.7 1660.3 656.9 1658.2C666.4 1655.7 676.7 1656.5 686 1653.4C689.3 1652.3 690.1 1647.4 693.3 1646.1C705 1641.2 718.4 1641.1 729.6 1635.2C735.9 1631.9 739 1624.4 744.1 1619.5C750.3 1613.5 757.9 1609 763.5 1602.5C768.5 1596.8 771.5 1589.6 775.6 1583.2C778.8 1578.3 782.7 1573.8 785.3 1568.6C789.2 1560.8 791.9 1552.5 795 1544.4C798.3 1535.6 801.7 1526.8 804.6 1517.8C807 1510.3 809.1 1502.7 811 1495C813.4 1485.7 815.7 1476.4 817.5 1467C819.2 1458.1 818.9 1448.7 821.6 1440C822.5 1437.2 827 1436.5 827.7 1433.7C830 1424.6 829.2 1415.1 830.1 1405.8C830.8 1397.7 831 1389.6 832.5 1381.6C833.4 1376.6 835.4 1371.8 837.3 1367.1C839 1362.9 840.7 1358.6 843.4 1355C846 1351.6 849.4 1348.6 853.1 1346.5C856 1344.9 859.6 1345.1 862.8 1344.1C866.1 1343.1 869 1340.6 872.4 1340.4C875.7 1340.2 878.8 1342.8 882.1 1342.9C883.9 1343 885.4 1340.2 887 1340.9C890.9 1342.5 893.1 1346.7 896.7 1348.9C899.6 1350.7 903.2 1351.1 906.3 1352.5C910.4 1354.3 914 1357.7 918.4 1358.6C922.4 1359.4 926.5 1357 930.6 1357.4C934.8 1357.8 938.8 1359.3 942.7 1361C945.4 1362.2 947 1365.5 949.9 1365.9C955.5 1366.7 961.2 1364.6 966.9 1364.6C972.5 1364.6 978.4 1364.1 983.8 1365.9C986.2 1366.7 986.2 1371.5 988.7 1371.9C992.1 1372.5 995 1368 998.4 1368.3C1005.1 1368.9 1011.1 1373.2 1017.7 1374.3C1020.9 1374.8 1024.1 1373.3 1027.4 1373.1C1032 1372.8 1036.7 1372.3 1041.2 1373C1046.4 1373.8 1051.1 1376.6 1056.3 1377.5C1065.3 1379.1 1074.7 1378.4 1083.6 1380.5C1088 1381.5 1091.4 1385.2 1095.7 1386.6C1110.6 1391.3 1126.4 1393.4 1141.1 1398.7C1144.8 1400 1146.4 1404.9 1150.1 1406.3C1154.9 1408.1 1160.4 1406.5 1165.3 1407.8C1175.6 1410.5 1185.8 1413.9 1195.5 1418.4C1200.1 1420.5 1202.8 1426 1207.6 1427.4C1213.4 1429.1 1220 1425.7 1225.8 1427.4C1232.5 1429.4 1237.3 1436 1244 1438C1252.7 1440.6 1262.4 1438.7 1271.2 1441.1C1274 1441.9 1274.6 1446.3 1277.3 1447.1C1283.1 1448.9 1289.6 1446.8 1295.4 1448.6C1299.1 1449.7 1300.8 1454.6 1304.5 1455.6C1310.4 1457.1 1316.8 1454.3 1322.7 1455.6C1326.2 1456.4 1328.2 1460.9 1331.7 1461.7C1338.6 1463.2 1346 1460.8 1352.9 1462.3C1354.7 1462.7 1354.2 1466.4 1356 1466.8C1361.9 1468.1 1368.2 1465.6 1374.1 1466.8C1377.6 1467.5 1379.8 1471.3 1383.2 1472.2C1393.1 1474.9 1403.4 1475.8 1413.5 1477.4C1423.5 1479 1433.7 1480.1 1443.7 1481.9C1449.8 1483 1455.7 1485.9 1461.9 1485.9C1466.1 1485.9 1469.8 1481.8 1474 1481.9C1478.3 1482 1481.8 1485.9 1486.1 1486.5C1492.1 1487.4 1498.3 1485.6 1504.3 1486.5C1506.6 1486.8 1508 1490.5 1510.3 1490.1C1513.1 1489.6 1513.8 1484.6 1516.6 1484.4C1519.6 1484.2 1521.2 1488.8 1524.2 1489C1546.4 1490.4 1568.6 1488.1 1590.8 1489C1594 1489.1 1596.7 1492.5 1599.9 1492C1604.4 1491.3 1607.5 1486.4 1612 1485.9C1615.2 1485.5 1617.8 1489.3 1621 1489.6C1637.1 1490.9 1653.3 1490.6 1669.5 1490.5C1678.6 1490.4 1687.7 1490.3 1696.7 1489C1699.9 1488.5 1702.5 1485.3 1705.8 1485.3C1710 1485.3 1713.7 1488.9 1717.9 1489C1723 1489.1 1727.9 1486.2 1733 1485.9C1741.1 1485.4 1749.2 1486.6 1757.3 1486.5C1772.4 1486.3 1787.6 1485.6 1802.7 1485C1812.8 1484.6 1822.8 1483.6 1832.9 1483.5C1841 1483.4 1849.1 1485.2 1857.1 1484.4C1863.4 1483.8 1869 1479.6 1875.3 1479.3C1881.5 1479 1887.3 1482.8 1893.5 1482.9C1898.6 1483 1903.5 1480.3 1908.6 1479.9C1923.7 1478.8 1938.9 1479.3 1954 1478.4C1960.1 1478 1966.1 1476.2 1972.2 1476.2C1974.3 1476.2 1976.1 1477.7 1978 1478.4" fill="none" stroke="#ff0000" stroke-width="6.2" stroke-linejoin="round" stroke-linecap="butt" />
<path d="M278 1913.4C283.5 1913.7 289 1915.1 294.4 1914.3C297.8 1913.8 301.3 1912.4 303.5 1909.8C307 1905.7 309.3 1900.5 310.8 1895.3C314.2 1883.4 316.1 1871.2 318 1859C320.3 1843.9 322 1828.8 323.5 1813.6C325 1798.5 326.1 1783.3 327.1 1768.2C329.6 1732.1 331.6 1696.1 334 1660C336 1630 338.3 1600 340.2 1570C342 1542.6 343.6 1515.3 345.1 1487.9C346.8 1455.6 348.1 1423.4 349.9 1391.1C351.3 1366.9 353.1 1342.6 354.7 1318.4C355.7 1303 356.8 1287.5 357.8 1272.1C358.8 1256 359.5 1239.8 360.8 1223.7C362 1209.1 363.4 1194.6 365.5 1180.1C366.3 1174.9 367.4 1169.8 369.5 1165C370.2 1163.5 371.9 1161.5 373.5 1162C376.1 1162.8 378.1 1165.4 379 1168C382.5 1178.2 384.3 1188.9 386.2 1199.5C389.1 1215.6 390.9 1231.8 393.5 1247.9C395.4 1259.6 397.6 1271.3 399.5 1283C401.6 1296 403.4 1309 405.5 1322C407.9 1337 410.4 1351.9 412.9 1366.9C415.2 1380.6 417.4 1394.4 420.1 1408C423 1422.6 426.2 1437.2 429.8 1451.6C432.7 1463 435.9 1474.3 439.5 1485.5C443.2 1496.9 447 1508.3 451.6 1519.4C455.1 1527.7 459.5 1535.6 463.7 1543.6C467.6 1551 471.2 1558.5 475.8 1565.4C479.3 1570.6 483.4 1575.4 487.9 1579.9C491.6 1583.6 495.6 1586.9 500 1589.6C503.7 1591.9 507.9 1593.7 512.1 1594.9C516 1596 520.1 1596.5 524.2 1596.4C528.3 1596.3 532.5 1595.9 536.3 1594.4C540.7 1592.7 544.7 1590.1 548.4 1587.2C552.9 1583.6 556.7 1579.3 560.5 1575.1C564.8 1570.4 569 1565.7 572.7 1560.5C577.1 1554.3 580.9 1547.7 584.7 1541.2C588.9 1534 593.2 1526.9 596.9 1519.4C600.5 1512.1 603.9 1504.7 606.6 1497C608.5 1491.5 609 1485.5 610.7 1479.9C614.1 1468.5 618.2 1457.4 621.7 1446C625.6 1433.1 629.1 1420.1 632.8 1407.2C636.5 1394.3 639.9 1381.3 643.9 1368.5C647.3 1357.3 651.3 1346.3 655 1335.2C658 1326.1 660.6 1316.9 664.2 1308C667.6 1299.8 671.6 1291.8 676 1284C680.2 1276.6 685.1 1269.6 689.7 1262.5C691.5 1259.8 692.9 1256.7 695.2 1254.5C696.3 1253.4 698.1 1252.9 699.7 1253C701.6 1253.1 703.8 1253.6 705.2 1255C708.1 1258 710.1 1261.8 711.9 1265.5C716 1274.1 719.2 1283.2 722.9 1292C726.5 1300.5 730.2 1309.1 734 1317.5C735.9 1321.6 737.8 1325.7 740 1329.7C742.9 1335 745.5 1340.5 749 1345.3C752.5 1350.1 756.4 1354.9 761.1 1358.6C763.8 1360.7 767.4 1362 770.8 1362.2C775.7 1362.4 780.5 1360.9 785.3 1359.8C789.4 1358.9 793.5 1357.8 797.4 1356.2C801.6 1354.5 805.6 1352.4 809.5 1350.1C813.7 1347.6 817.3 1344 821.6 1341.6C823.8 1340.3 827 1340.9 828.9 1339.2C831.3 1337.1 831 1329.1 833.7 1330.8C838 1333.5 837.3 1340.3 838.5 1345.3C841.4 1357.3 843.2 1369.5 845.8 1381.6C848.1 1392.1 850.7 1402.6 853.1 1413.1C855.9 1425.4 858.8 1437.7 861.6 1450C864.4 1462.1 866.9 1474.3 870 1486.3C873.7 1500.9 878 1515.4 882.1 1529.9C886 1543.7 889.9 1557.4 894.2 1571.1C898 1583.3 902 1595.4 906.3 1607.4C910.1 1618 913.9 1628.6 918.4 1638.9C922 1647.2 926.4 1655.1 930.6 1663.1C934.5 1670.4 938.5 1677.7 942.7 1684.9C946.6 1691.4 950.4 1698 954.8 1704.2C958.5 1709.3 962.7 1714.1 966.9 1718.8C970.7 1723 974.9 1727 979 1730.9C982.9 1734.6 986.8 1738.4 991.1 1741.8C994.9 1744.8 999.4 1747 1003.2 1750C1009 1754.6 1014 1760.3 1020 1764.7C1027.7 1770.3 1036.2 1774.8 1044.2 1779.9C1051.3 1784.4 1057.8 1789.9 1065.4 1793.5C1075.1 1798.1 1085.5 1801 1095.7 1804.1C1105.6 1807.1 1116 1808.7 1125.9 1811.7C1131.1 1813.3 1135.8 1816.2 1141 1817.7C1151 1820.6 1161.1 1822.7 1171.3 1824.7C1181.3 1826.7 1191.5 1827.9 1201.6 1829.8C1211.7 1831.7 1221.6 1835.1 1231.9 1835.9C1234.1 1836.1 1235.7 1832.5 1237.9 1832.8C1240.4 1833.1 1241.5 1836.7 1244 1837.4C1249.9 1839 1256.1 1838.8 1262.1 1839.5C1272.2 1840.8 1282.3 1842.2 1292.4 1843.4C1302.5 1844.6 1312.6 1845.5 1322.7 1846.5C1332.8 1847.5 1342.8 1848.6 1352.9 1849.5C1363 1850.4 1373.1 1851 1383.2 1851.9C1393.3 1852.8 1403.4 1854.1 1413.5 1854.9C1423.6 1855.7 1433.6 1855.7 1443.7 1856.5C1453.8 1857.3 1464 1857.9 1474 1859.5C1478.2 1860.1 1481.9 1863.3 1486.1 1863.1C1490.4 1862.9 1493.9 1859 1498.2 1858.6C1500.5 1858.4 1502.1 1861.3 1504.3 1861.6C1509.3 1862.3 1514.4 1861.4 1519.4 1861.6C1557.3 1862.8 1595.3 1864.5 1633.2 1865.8C1677.6 1867.3 1721.9 1868.7 1766.3 1869.8C1810.7 1870.9 1855.1 1871.7 1899.5 1872.5C1925.7 1873 1951.8 1873.4 1978 1873.8" fill="none" stroke="#0000ff" stroke-width="6.2" stroke-linejoin="round" stroke-linecap="butt" />
<path d="M278 1893.5C282.3 1893.5 286.8 1895 290.8 1893.5C295.2 1891.8 299 1888.3 301.7 1884.4C305.2 1879.5 307.1 1873.7 309 1868C312 1859.1 314.1 1849.9 316.2 1840.8C318.9 1828.8 321.1 1816.6 323.5 1804.5C325.9 1792.4 328.1 1780.3 330.7 1768.2C332 1762.1 334.6 1756.2 335.3 1750C338.7 1720.1 340.6 1690 343 1660C345.4 1630 347.5 1600 349.9 1570C351.4 1550.7 353.1 1531.4 354.7 1512.1C356.4 1491.9 358 1471.8 359.6 1451.6C361.2 1431.4 362.6 1411.3 364.4 1391.1C365.8 1374.9 367.5 1358.7 369.3 1342.6C370.7 1330.5 371.9 1318.3 374.1 1306.3C375.2 1300.5 374.9 1293.5 379 1289.4C381 1287.4 383 1293.8 383.8 1296.6C387 1307.7 388.8 1319.2 391 1330.5C393.6 1344.2 395.9 1358 398.3 1371.7C400.8 1386.2 402.9 1400.8 405.6 1415.3C408.6 1431.5 411.6 1447.7 415.3 1463.7C418.1 1475.9 421.6 1488 425 1500C428 1510.6 431.1 1521.1 434.6 1531.5C437.6 1540.5 440.6 1549.4 444.3 1558.1C447.1 1564.8 450.2 1571.3 454 1577.5C456.7 1581.9 460.2 1585.8 463.7 1589.6C467.5 1593.8 471.3 1598.1 475.8 1601.7C479.5 1604.6 483.6 1607.1 487.9 1609C491.7 1610.7 495.9 1611.7 500 1612.6C503.2 1613.3 506.5 1614.1 509.7 1613.8C514.7 1613.3 519.5 1611.7 524.2 1610.2C528.3 1608.9 532.4 1607.2 536.3 1605.3C540.5 1603.2 544.8 1601.1 548.4 1598.1C553 1594.2 556.7 1589.4 560.5 1584.7C564.8 1579.3 568.8 1573.6 572.7 1567.8C576.9 1561.5 581 1555.1 584.7 1548.4C589.1 1540.4 593.3 1532.3 596.9 1524C600.7 1515.2 603.5 1505.9 607 1497C609.3 1491.2 612.1 1485.7 614.2 1479.9C618.2 1468.7 621.7 1457.4 625.2 1446C629.1 1433.1 632.6 1420.1 636.3 1407.2C640 1394.3 643.4 1381.3 647.4 1368.5C650.8 1357.3 655.3 1346.4 658.5 1335.2C662 1323.2 663.9 1310.7 667.5 1298.7C669.1 1293.3 672.1 1288.4 674.2 1283.2C676.9 1276.6 679 1269.7 681.9 1263.2C684.1 1258.2 686.4 1253.2 689.7 1248.8C691.3 1246.6 693.7 1244.8 696.3 1243.8C698.4 1243 700.9 1243.1 703 1243.8C705.5 1244.7 708 1246.2 709.6 1248.3C712.9 1252.8 715 1258.1 717.4 1263.2C721.3 1271.3 724.9 1279.4 728.5 1287.6C732.4 1296.4 735.7 1305.6 740 1314.2C742.5 1319.2 745.4 1324 749 1328.3C752.5 1332.4 756.5 1336.4 761.1 1339.2C763.9 1340.9 767.5 1341.9 770.8 1341.6C775.9 1341.1 780.7 1338.9 785.3 1336.8C789.6 1334.8 793.6 1332.3 797.4 1329.5C801.7 1326.2 805.5 1322.2 809.5 1318.6C813.5 1315 817.5 1311.3 821.6 1307.7C824.8 1304.9 827 1299.6 831.3 1299.3C834.7 1299.1 837.1 1303.4 838.5 1306.5C842 1314.2 843.7 1322.6 845.8 1330.8C848.6 1342 850.8 1353.3 853.1 1364.6C855.6 1376.7 857.9 1388.9 860.3 1401C862.7 1413.1 864.8 1425.3 867.6 1437.3C870.5 1449.5 873.9 1461.5 877.3 1473.6C879.6 1481.9 882.2 1490.1 884.6 1498.4C888.6 1512.1 892.3 1526 896.7 1539.6C900.4 1551 904.5 1562.3 908.8 1573.5C912.6 1583.3 916.6 1593 920.9 1602.5C924.6 1610.7 928.6 1618.9 933 1626.8C936.7 1633.4 940.8 1639.7 945 1646C948.8 1651.8 952.8 1657.5 957 1663C960.8 1667.9 964.9 1672.4 969 1677C972.9 1681.4 976.9 1685.8 981 1690C984.9 1694 988.7 1698 993 1701.5C996.8 1704.6 1000.9 1707.3 1005 1710C1009.9 1713.2 1014.9 1716.4 1020 1719.3C1030 1725 1040 1730.8 1050.3 1736C1060.2 1740.9 1070.2 1745.7 1080.5 1749.6C1090.4 1753.3 1100.6 1755.9 1110.8 1758.7C1120.8 1761.5 1130.9 1764 1141 1766.3C1151 1768.6 1161.2 1770.4 1171.3 1772.3C1181.4 1774.2 1191.5 1775.7 1201.6 1777.5C1211.7 1779.3 1221.8 1781.2 1231.9 1782.9C1241.9 1784.5 1252 1786 1262.1 1787.4C1272.2 1788.8 1282.3 1789.8 1292.4 1791.1C1302.5 1792.4 1312.5 1794.6 1322.7 1795C1326.8 1795.1 1330.7 1792.1 1334.8 1792.6C1338.2 1793 1340.5 1796.8 1343.9 1797.4C1356.9 1799.5 1370.1 1799.5 1383.2 1800.5C1393.3 1801.3 1403.4 1802 1413.5 1802.6C1423.6 1803.2 1433.6 1803.4 1443.7 1804.1C1451.8 1804.7 1459.8 1806.7 1467.9 1806.5C1470.2 1806.5 1471.7 1803.3 1474 1803.5C1480.3 1804 1486 1807.8 1492.2 1808.6C1501.2 1809.8 1510.3 1809 1519.4 1809.5C1557.3 1811.6 1595.2 1814.7 1633.2 1816.5C1677.5 1818.7 1721.9 1820.1 1766.3 1821.5C1810.7 1822.9 1855.1 1823.5 1899.5 1824.8C1925.7 1825.5 1951.8 1826.6 1978 1827.5" fill="none" stroke="#00ff00" stroke-width="6.2" stroke-linejoin="round" stroke-linecap="butt" />
<path d="M278 1908C282.2 1908.6 286.5 1910.5 290.7 1909.8C294.8 1909.2 298.6 1907 301.7 1904.3C304.9 1901.4 307.1 1897.4 309 1893.5C312 1887.1 314.2 1880.3 316.2 1873.5C319 1863.9 321.6 1854.2 323.5 1844.4C326.4 1829.7 328.8 1814.9 330.5 1800C333.6 1773.4 336 1746.7 338 1720C339.8 1696.7 340.8 1673.3 342 1650C343.4 1623.3 344.6 1596.7 346 1570C347.3 1545 348.6 1520 349.9 1495C351.5 1464.4 352.9 1433.8 354.7 1403.2C356.1 1379 357.8 1354.7 359.6 1330.5C361 1311 362.8 1291.6 364.4 1272.1C366 1251.9 367.7 1231.8 369.3 1211.6C370.9 1191.4 372.3 1171.3 374.1 1151.1C375.5 1134.9 376.8 1118.7 379 1102.6C380 1095.2 381.5 1087.9 383.8 1080.8C384.5 1078.5 385.6 1074.1 387.9 1074.8C391 1075.7 391.5 1080.2 392.3 1083.3C394.6 1092 395.8 1101 397.1 1109.9C399.1 1123.6 400.3 1137.4 402 1151.1C404 1167.2 406 1183.4 408 1199.5C410 1215.6 412.1 1231.8 414.1 1247.9C416.1 1264 418 1280.2 420.1 1296.3C421.6 1307.6 423.5 1318.8 425 1330C426.7 1342.3 427.7 1354.7 429.8 1366.9C432.6 1383.1 435.9 1399.2 439.5 1415.3C443.2 1431.5 447.2 1447.7 451.6 1463.7C455.2 1476.9 458.8 1490.2 463.7 1503C466.9 1511.3 471.3 1519 475.8 1526.6C479.4 1532.6 483.6 1538.1 487.9 1543.6C491.7 1548.4 495.6 1553.2 500 1557.5C502.7 1560.1 505.4 1563 509 1564.2C512.5 1565.3 516.4 1564.5 520 1564C525.5 1563.3 531 1562.3 536.3 1560.5C540.6 1559.1 544.5 1556.8 548.4 1554.5C552.6 1552 556.6 1549.1 560.5 1546C564.8 1542.6 568.8 1539 572.7 1535.1C576.9 1530.9 580.8 1526.3 584.7 1521.8C588.8 1517 593.4 1512.6 596.9 1507.3C601.6 1500.2 604.9 1492.4 609 1485C610 1483.2 611.5 1481.8 612.2 1479.9C616.3 1468.7 619.7 1457.4 623.2 1446C627.1 1433.1 630.6 1420.1 634.3 1407.2C638 1394.3 641.4 1381.3 645.4 1368.5C648.8 1357.3 652.5 1346.2 656.5 1335.2C659.2 1327.7 661.9 1320.2 665.3 1313.1C667 1309.5 669.2 1306 672 1303.1C673.4 1301.6 675.4 1300.4 677.5 1300.3C682.7 1300 688.4 1299.5 693 1302C697 1304.2 698.1 1309.5 700.8 1313.1C704.4 1318 708.3 1322.6 711.9 1327.5C715.7 1332.6 719.2 1337.9 722.9 1343C725.8 1347.1 728.5 1351.4 731.8 1355.2C734.9 1358.6 738.4 1361.7 742 1364.5C744.5 1366.4 747.1 1368.4 750 1369.5C753.5 1370.9 757.3 1371.5 761.1 1371.9C764.3 1372.3 767.8 1373 770.8 1371.9C774.6 1370.5 777.2 1367 780.5 1364.6C786.1 1360.5 792.3 1357.2 797.4 1352.5C802 1348.2 805.7 1343 809.5 1338C813.7 1332.5 816.9 1326.1 821.6 1321.1C823.5 1319.1 826.7 1319 828.9 1317.4C830.8 1316.1 831.8 1311.3 833.7 1312.6C837.8 1315.5 839.4 1321.1 841 1325.9C844.2 1335.4 846 1345.3 848.2 1355C850.8 1366.3 853.1 1377.6 855.5 1388.9C858 1401 860.2 1413.1 862.8 1425.2C864.6 1433.5 866.6 1441.8 868.8 1450C873.1 1466.2 877.5 1482.3 882.1 1498.4C886 1512.2 889.8 1526 894.2 1539.6C897.9 1551 902 1562.3 906.3 1573.5C910.1 1583.3 914.1 1593 918.4 1602.5C922.2 1610.7 926.2 1618.9 930.6 1626.8C934.3 1633.4 938.6 1639.7 942.7 1646.1C946.7 1652.2 950.5 1658.4 954.8 1664.3C958.5 1669.4 962.8 1674.1 966.9 1678.8C970.8 1683.3 974.9 1687.8 979 1692.1C982.9 1696.2 986.8 1700.5 991.1 1704.2C994.9 1707.4 999.1 1710 1003.2 1712.7C1007.1 1715.3 1011.2 1717.7 1015.3 1720C1019.2 1722.2 1023.5 1723.7 1027.4 1726C1035.2 1730.6 1042.3 1736.3 1050.3 1740.5C1060.1 1745.7 1070.2 1750.3 1080.5 1754.2C1090.4 1757.9 1100.6 1760.4 1110.8 1763.2C1120.8 1765.9 1131 1768 1141 1770.8C1151.2 1773.6 1161.1 1777.1 1171.3 1779.9C1181.3 1782.6 1191.4 1785.1 1201.6 1787.4C1211.7 1789.7 1221.8 1791.6 1231.9 1793.5C1241.9 1795.4 1252 1796.8 1262.1 1798.6C1269.2 1799.9 1276.2 1801.3 1283.3 1802.6C1296.4 1805.1 1309.5 1808.3 1322.7 1810.1C1332.7 1811.5 1342.9 1811.2 1352.9 1812.3C1361 1813.2 1368.9 1816 1377.1 1816.2C1379.4 1816.3 1381 1812.7 1383.2 1813.2C1385.9 1813.9 1386.4 1818.6 1389.2 1819.2C1401.1 1821.8 1413.4 1822.5 1425.6 1822.3C1427.9 1822.3 1429.3 1818.5 1431.6 1818.6C1434.1 1818.7 1435.2 1822.5 1437.7 1822.9C1449.7 1824.8 1461.9 1824.2 1474 1825.3C1484.1 1826.2 1494.2 1827.9 1504.3 1828.9C1509.3 1829.4 1514.4 1829.5 1519.4 1829.8C1557.3 1832 1595.3 1834.2 1633.2 1836.5C1677.6 1839.2 1721.9 1842.5 1766.3 1844.8C1810.7 1847.1 1855.1 1848.9 1899.5 1850.5C1925.7 1851.5 1951.8 1851.8 1978 1852.5" fill="none" stroke="#008000" stroke-width="6.2" stroke-linejoin="round" stroke-linecap="butt" />
</g>
<g id="curves-c">
<path d="M278 2854.6C305.6 2854.1 333.3 2855 360.8 2853C369.1 2852.4 377.2 2850 385 2847C390.5 2844.9 395.7 2841.8 400.1 2837.9C404.9 2833.6 408.9 2828.3 412.3 2822.8C417 2815.1 421.1 2807 424.4 2798.6C428.2 2788.8 430.5 2778.4 433.4 2768.3C436.5 2757.2 439.3 2746.1 442.5 2735C445.4 2724.9 447.4 2714.4 451.6 2704.7C453.6 2700.1 455.9 2694.2 460.7 2692.6C464.2 2691.5 467.8 2695.7 469.8 2698.7C474 2705.1 476.5 2712.6 478.8 2719.9C481.6 2728.8 482.4 2738.1 484.9 2747.1C487.5 2756.3 490.2 2765.6 494 2774.4C496.3 2779.8 499.5 2784.8 503 2789.5C505.6 2792.9 508.1 2797 512.1 2798.6C516.8 2800.5 522.2 2799.5 527.3 2799.2C537.4 2798.5 547.4 2795.6 557.5 2795.5C567.7 2795.4 577.8 2796.6 587.8 2798.6C593.1 2799.7 597.9 2802.5 602.9 2804.6C611 2808 618.6 2812.8 627.1 2815.2C633.9 2817.1 641.2 2816.7 648.3 2817.3C658.4 2818.2 668.5 2819.9 678.6 2819.8C688.8 2819.7 698.9 2818.5 708.9 2816.7C716.1 2815.4 723.4 2813.8 730 2810.7C736.6 2807.7 743.2 2803.9 748.2 2798.6C753.2 2793.4 756.5 2786.6 759.4 2780C764.3 2769.1 767.6 2757.6 771.5 2746.3C775.7 2734.2 780.3 2722.3 783.6 2710C786.8 2698.1 788.9 2685.9 790.8 2673.7C793.3 2657.6 795.1 2641.5 796.9 2625.3C798.7 2609.2 800.1 2593 801.7 2576.9C803.3 2560.6 804.9 2544.3 806.6 2528C808 2515.3 809.8 2502.7 811 2490C811.9 2480.7 812.4 2471.3 813 2462C814.1 2445.9 815.1 2429.8 816.3 2413.7C817.4 2399.2 818.5 2384.6 819.9 2370.1C820.5 2364 820 2357.6 822.3 2352C823 2350.3 827.4 2352.6 827.7 2350.8C829.6 2339.7 828.2 2328.2 828.4 2316.9C828.7 2297.9 828.8 2279 829.1 2260C829.4 2237.4 829.7 2214.7 830.1 2192.1C830.3 2180 830.5 2167.9 830.8 2155.8C831.1 2143.7 831.2 2131.6 832 2119.5C832.8 2107.4 834.3 2095.3 835.6 2083.2C836.7 2072.7 837.8 2062.2 839.3 2051.7C840.7 2042 842.1 2032.2 844.1 2022.6C845.8 2014.4 847.3 2006.2 850.2 1998.4C852.2 1993.2 855.1 1988.2 858.6 1983.9C860.4 1981.6 863.1 1979.7 865.9 1979.1C869.1 1978.4 872.6 1979 875.6 1980.3C879.3 1981.9 882.6 1984.6 885.3 1987.5C888.3 1990.7 890.5 1994.5 892.5 1998.4C895.3 2003.9 897.3 2009.8 899.8 2015.4C903 2022.7 906.2 2029.9 909.5 2037.2C913.5 2046.1 918 2054.8 921.6 2063.8C924.5 2070.9 926.1 2078.5 928.9 2085.6C930.9 2090.6 934.1 2095.1 936.1 2100.1C939.8 2109.6 942.3 2119.6 945.8 2129.2C949.6 2139.8 953.7 2150.3 957.9 2160.7C961.8 2170.4 966 2180 970 2189.7C974.1 2199.6 978.4 2209.4 982.1 2219.5C986.5 2231.6 989.9 2244.1 994.2 2256.3C998 2266.9 1002 2277.4 1006.3 2287.8C1010 2296.8 1014.4 2305.5 1018.4 2314.4C1022.5 2323.3 1026.4 2332.3 1030.6 2341.1C1034.5 2349.2 1038.5 2357.3 1042.7 2365.3C1046.6 2372.7 1050.8 2379.8 1054.8 2387.1C1058.8 2394.4 1062.7 2401.7 1066.9 2408.9C1070.8 2415.4 1074.8 2421.9 1079 2428.2C1082.9 2434 1087.2 2439.4 1091.1 2445.2C1095.3 2451.5 1098.8 2458.4 1103.2 2464.6C1106.9 2469.7 1111.5 2474.1 1115.3 2479.1C1119.5 2484.6 1123.2 2490.5 1127.4 2496C1131.3 2501 1135.5 2505.7 1139.5 2510.6C1143.2 2515.2 1146.5 2520.1 1150.3 2524.5C1160.1 2535.8 1169.9 2547.2 1180.5 2557.8C1190.1 2567.4 1200.2 2576.5 1210.8 2585C1220.4 2592.7 1230.8 2599.5 1241.1 2606.2C1250.9 2612.6 1261.5 2617.9 1271.3 2624.4C1276.7 2628 1280.9 2633.2 1286.5 2636.5C1291.1 2639.3 1296.7 2640.2 1301.6 2642.5C1311.8 2647.3 1321.7 2652.7 1331.9 2657.6C1341.9 2662.4 1351.9 2667 1362.1 2671.3C1372.1 2675.6 1382.1 2679.8 1392.4 2683.4C1402.4 2686.9 1412.7 2689.2 1422.7 2692.5C1432.8 2695.8 1442.8 2699.7 1452.9 2703C1462.9 2706.3 1473 2709.3 1483.2 2712.1C1493.2 2714.9 1503.4 2717.2 1513.5 2719.7C1523.6 2722.2 1533.6 2725 1543.7 2727.3C1553.7 2729.6 1563.8 2731.7 1574 2733.3C1589.1 2735.7 1604.3 2737.1 1619.4 2739.4C1653.3 2744.6 1687.1 2751.3 1721.1 2755.9C1761.3 2761.4 1801.7 2765.7 1842.1 2769.6C1887.3 2774 1932.7 2777.1 1978 2780.8" fill="none" stroke="#ff0000" stroke-width="6.2" stroke-linejoin="round" stroke-linecap="butt" />
<path d="M278 2854.6C310.6 2853.9 343.3 2854.6 375.9 2852.4C386.2 2851.7 396.3 2848.9 406.2 2846C413.5 2843.9 420.2 2840 427.4 2837.5C433.3 2835.5 439.4 2833.9 445.5 2832.5C447.5 2832 449.6 2831.7 451.6 2831.9C456.7 2832.5 461.6 2834.2 466.7 2834.9C476.8 2836.3 486.8 2837.8 497 2838C512.1 2838.3 527.3 2837.1 542.4 2836.4C552.5 2835.9 562.6 2835.5 572.7 2834.5C582.8 2833.5 592.8 2831.1 602.9 2830.3C613 2829.6 623.1 2830.3 633.2 2830C643.3 2829.7 653.4 2829.4 663.5 2828.5C673.6 2827.6 683.7 2826.4 693.7 2824.5C703.9 2822.6 714.1 2820.3 724 2817C732.4 2814.2 740.6 2810.6 748.2 2806C752.9 2803.2 756.8 2799.2 760.3 2795C764.2 2790.4 767.7 2785.4 770.3 2780C775.5 2769.1 779.8 2757.8 783.6 2746.3C787.5 2734.4 790.3 2722.2 793.3 2710C796.3 2697.9 799.1 2685.8 801.7 2673.7C804.3 2661.6 807 2649.6 809 2637.4C811 2625.4 812.1 2613.2 813.8 2601.1C815.3 2590.6 816.8 2580.1 818.7 2569.6C819.2 2566.7 819.8 2563.7 821.1 2561.1C821.9 2559.6 824.2 2559.1 824.7 2557.5C826.3 2552 826.7 2546.2 827.2 2540.5C828.3 2528.4 828.9 2516.3 829.6 2504.2C830 2496.1 830.2 2488.1 830.5 2480C830.9 2470 830.4 2459.9 831.5 2450C832.1 2444.2 832.7 2438.1 835.6 2433.1C837.6 2429.6 841.3 2426 845.3 2425.8C849.5 2425.6 853 2429.2 856.2 2431.9C860.8 2435.8 864 2441.1 868.3 2445.2C873.7 2450.3 880 2454.4 885.3 2459.7C889.8 2464.1 892.8 2469.9 897.4 2474.2C902.5 2478.9 908.5 2482.5 914.3 2486.3C920.6 2490.5 927.5 2494 933.7 2498.4C937.2 2500.9 939.6 2504.8 943.4 2506.9C947.9 2509.4 953.2 2509.7 957.9 2511.8C962.1 2513.7 966 2516.4 970 2518.7C974.1 2521.1 977.9 2523.8 982.1 2526C990.1 2530.3 998.2 2534.1 1006.3 2538.1C1010.3 2540.1 1014.4 2542.2 1018.4 2544.2C1026.5 2548.2 1034.5 2552.4 1042.7 2556.3C1050.7 2560.1 1058.8 2563.6 1066.9 2567.2C1075 2570.8 1083 2574.5 1091.1 2578.1C1099.2 2581.7 1107.2 2585.5 1115.3 2589C1123.3 2592.4 1131.5 2595.3 1139.5 2598.6C1143.1 2600.1 1146.7 2601.7 1150.3 2603.2C1160.3 2607.3 1170.3 2611.7 1180.5 2615.3C1190.5 2618.8 1200.8 2621.1 1210.8 2624.4C1221 2627.7 1230.9 2631.7 1241.1 2635C1251.1 2638.2 1261.2 2641 1271.3 2644C1281.4 2647 1291.5 2650.1 1301.6 2653.1C1311.7 2656.1 1321.7 2659.4 1331.9 2662.2C1341.9 2665 1352 2667.3 1362.1 2669.8C1372.2 2672.3 1382.3 2674.8 1392.4 2677.3C1402.5 2679.8 1412.5 2682.6 1422.7 2684.9C1432.7 2687.2 1442.8 2688.9 1452.9 2690.9C1463 2692.9 1473.1 2695.1 1483.2 2697C1493.3 2698.9 1503.4 2700.6 1513.5 2702.4C1523.6 2704.2 1533.6 2706 1543.7 2707.6C1553.8 2709.2 1564 2710.1 1574 2712.1C1584.2 2714.1 1594.1 2717.7 1604.3 2719.7C1609.3 2720.7 1614.4 2720.5 1619.4 2721.2C1653.3 2726 1687.1 2731.9 1721.1 2736.3C1761.4 2741.5 1801.7 2745.6 1842.1 2749.9C1887.4 2754.7 1932.7 2759 1978 2763.5" fill="none" stroke="#0000ff" stroke-width="6.2" stroke-linejoin="round" stroke-linecap="butt" />
<path d="M278 2854.6C310.6 2854.1 343.3 2854.7 375.9 2853C386.1 2852.5 396.2 2850.3 406.2 2848C413.4 2846.3 420.2 2843 427.4 2841C433.4 2839.3 439.3 2837.2 445.5 2837C452.6 2836.7 459.6 2838.7 466.7 2839.5C476.8 2840.7 486.8 2842.5 497 2843C512.1 2843.7 527.3 2843.4 542.4 2843C552.5 2842.7 562.6 2841.8 572.7 2841C582.8 2840.3 592.8 2839.1 602.9 2838.5C613 2837.9 623.1 2838.1 633.2 2837.5C643.3 2836.9 653.4 2836.1 663.5 2835C673.6 2833.9 683.7 2832.8 693.7 2831C703.9 2829.1 714 2826.9 724 2824C729.2 2822.5 734.5 2820.8 739.1 2818C744.9 2814.4 750.2 2809.9 755 2805C762.7 2797.2 770.5 2789.3 776.3 2780C781.8 2771.2 784.4 2760.8 788.4 2751.2C792.5 2741.5 796.9 2732 800.5 2722.1C803.4 2714.2 805.8 2706.1 807.8 2697.9C810.7 2685.9 812.9 2673.8 815.1 2661.6C817 2651.1 817.6 2640.5 819.9 2630.1C820.5 2627.5 822.3 2625.3 823.5 2622.9C824.7 2620.5 826.7 2618.3 827.2 2615.6C828.8 2606.8 828.8 2597.9 829.6 2589C830.4 2579.3 830.9 2569.6 832 2559.9C832.9 2552.6 833.5 2545.2 835.6 2538.1C836.8 2534.1 837.8 2528.7 841.7 2527.2C845.1 2525.9 848.3 2530.2 851.4 2532.1C854.8 2534.2 858.2 2536.5 861.1 2539.3C865.5 2543.4 869.2 2548.2 873.2 2552.6C877.2 2557.1 881.1 2561.7 885.3 2566C889.1 2569.8 893.5 2573.2 897.4 2576.9C901.5 2580.8 905.4 2585.1 909.5 2589C913.4 2592.7 917.6 2596.3 921.6 2599.9C925.6 2603.5 929.5 2607.4 933.7 2610.8C937.5 2613.9 941.8 2616.4 945.8 2619.2C949.8 2622 953.9 2624.9 957.9 2627.7C961.9 2630.5 966 2633.4 970 2636.2C974 2639 978.1 2641.8 982.1 2644.6C986.1 2647.4 989.9 2650.7 994.2 2653.1C998 2655.2 1002.4 2656.1 1006.3 2658C1010.5 2660.1 1014.3 2662.9 1018.4 2665.2C1022.4 2667.4 1026.5 2669.3 1030.6 2671.3C1034.6 2673.3 1038.6 2675.5 1042.7 2677.3C1046.7 2679.1 1050.7 2680.8 1054.8 2682.2C1062.8 2684.9 1070.9 2687 1079 2689.4C1087.1 2691.8 1095.1 2694.3 1103.2 2696.7C1111.3 2699.1 1119.5 2701.2 1127.4 2704C1135.2 2706.8 1142.4 2711 1150.3 2713.6C1160.2 2716.8 1170.4 2718.9 1180.5 2721.2C1190.5 2723.5 1200.7 2725.3 1210.8 2727.3C1220.9 2729.3 1231 2731.5 1241.1 2733.3C1251.1 2735 1261.2 2736.3 1271.3 2737.8C1281.4 2739.3 1291.5 2740.9 1301.6 2742.4C1311.7 2743.9 1321.8 2745.5 1331.9 2746.9C1342 2748.3 1352 2749.6 1362.1 2750.9C1372.2 2752.2 1382.3 2753.4 1392.4 2754.5C1402.5 2755.6 1412.6 2756.5 1422.7 2757.5C1432.8 2758.5 1442.8 2759.6 1452.9 2760.5C1463 2761.4 1473.1 2762.2 1483.2 2763C1493.3 2763.8 1503.4 2764.4 1513.5 2765.1C1523.6 2765.8 1533.6 2766.5 1543.7 2767.2C1553.8 2768 1563.9 2768.9 1574 2769.6C1589.1 2770.6 1604.3 2771.2 1619.4 2772.1C1653.3 2774.2 1687.2 2776.7 1721.1 2778.6C1761.4 2780.9 1801.7 2783.1 1842.1 2784.7C1887.4 2786.5 1932.7 2787.3 1978 2788.6" fill="none" stroke="#00ff00" stroke-width="6.2" stroke-linejoin="round" stroke-linecap="butt" />
<path d="M278 2854.6C310.6 2853.9 343.3 2854.3 375.9 2852.4C386.1 2851.8 396.3 2849.5 406.2 2847C413.5 2845.2 420.2 2841.5 427.4 2839.4C433.3 2837.7 439.3 2835.7 445.5 2835.5C452.6 2835.2 459.6 2837.1 466.7 2837.9C476.8 2839.1 486.8 2841.1 497 2841.5C512.1 2842.1 527.3 2841.5 542.4 2840.9C552.5 2840.5 562.6 2839.5 572.7 2838.5C582.8 2837.5 592.8 2835.8 602.9 2834.9C613 2834.1 623.1 2834.2 633.2 2833.4C643.3 2832.6 653.4 2831.6 663.5 2830.3C673.6 2829 683.7 2827.8 693.7 2825.8C703.9 2823.8 714.1 2821.5 724 2818.2C732.4 2815.4 740.5 2811.8 748.2 2807.6C752.6 2805.2 756.5 2801.9 760.3 2798.6C763.6 2795.8 766.1 2792.3 769.4 2789.5C773.5 2786 779.4 2784.4 782.4 2780C788.4 2771.3 791.3 2760.8 795.7 2751.2C799 2744 802.7 2736.9 805.4 2729.4C808.3 2721.5 810.3 2713.3 812.6 2705.2C814.4 2698.8 815.7 2692.2 817.5 2685.8C818.9 2680.9 819.5 2675.6 822.3 2671.3C823.5 2669.5 827.7 2671 828.4 2668.9C830.6 2662.8 829.6 2656 830.1 2649.5C830.8 2641.4 830.2 2633.2 832 2625.3C832.5 2623 834.5 2619.5 836.9 2620C840.3 2620.7 842 2624.9 844.1 2627.7C846.9 2631.5 848.7 2635.9 851.4 2639.8C854.4 2644 857.6 2648.1 861.1 2651.9C864.9 2656.1 868.7 2660.4 873.2 2664C876.9 2666.9 881.5 2668.5 885.3 2671.3C888 2673.3 889.6 2676.8 892.5 2678.5C897.8 2681.7 903.8 2683.4 909.5 2685.8C913.5 2687.5 917.7 2688.8 921.6 2690.7C925 2692.4 927.8 2695.3 931.3 2696.7C935.9 2698.5 941 2699.1 945.8 2700.3C953.9 2702.3 961.9 2704.6 970 2706.4C978 2708.2 986.1 2709.7 994.2 2711.2C1002.2 2712.7 1010.3 2714.5 1018.4 2715.3C1026.5 2716.1 1034.6 2715.3 1042.7 2716.1C1050.8 2716.9 1058.8 2719 1066.9 2720.2C1074.9 2721.4 1083 2722.5 1091.1 2723.3C1099.1 2724.1 1107.3 2723.9 1115.3 2725C1119.4 2725.6 1123.2 2728.4 1127.4 2728.2C1130.3 2728.1 1132.2 2724 1135.1 2724.2C1140.5 2724.6 1144.9 2729.1 1150.3 2729.7C1170.4 2732 1190.6 2731.6 1210.8 2732.7C1231 2733.8 1251.1 2735.3 1271.3 2736.3C1291.5 2737.3 1311.7 2738.6 1331.9 2738.8C1337 2738.8 1341.9 2736.6 1347 2737C1352.2 2737.4 1357 2740.1 1362.1 2740.9C1372.1 2742.4 1382.3 2743.8 1392.4 2743.9C1397.5 2744 1402.4 2741.4 1407.5 2741.5C1422.7 2741.9 1437.7 2744.3 1452.9 2745.4C1468 2746.4 1483.2 2746.7 1498.3 2747.8C1503.4 2748.2 1508.4 2749.7 1513.5 2750C1523.5 2750.7 1533.6 2750.3 1543.7 2750.9C1553.8 2751.6 1563.9 2753.3 1574 2753.9C1589.1 2754.7 1604.3 2754.6 1619.4 2755.1C1653.3 2756.3 1687.2 2757.6 1721.1 2759C1761.4 2760.7 1801.8 2762.9 1842.1 2764.4C1887.4 2766.1 1932.7 2767.2 1978 2768.6" fill="none" stroke="#008000" stroke-width="6.2" stroke-linejoin="round" stroke-linecap="butt" />
</g>
<g id="labels" font-family="'Liberation Sans', sans-serif" fill="#000000">
<text transform="translate(237 987)" font-size="48" text-anchor="end">95</text>
<text transform="translate(237 815.9)" font-size="48" text-anchor="end">96</text>
<text transform="translate(237 644.8)" font-size="48" text-anchor="end">97</text>
<text transform="translate(237 473.6)" font-size="48" text-anchor="end">98</text>
<text transform="translate(237 302.6)" font-size="48" text-anchor="end">99</text>
<text transform="translate(237 131.4)" font-size="48" text-anchor="end">100</text>
<text transform="translate(237 1822.9)" font-size="48" text-anchor="end">1.5</text>
<text transform="translate(237 1711.5)" font-size="48" text-anchor="end">2.0</text>
<text transform="translate(237 1600.2)" font-size="48" text-anchor="end">2.5</text>
<text transform="translate(237 1488.9)" font-size="48" text-anchor="end">3.0</text>
<text transform="translate(237 1377.5)" font-size="48" text-anchor="end">3.5</text>
<text transform="translate(237 1266.2)" font-size="48" text-anchor="end">4.0</text>
<text transform="translate(237 1154.9)" font-size="48" text-anchor="end">4.5</text>
<text transform="translate(237 1043.5)" font-size="48" text-anchor="end">5.0</text>
<text transform="translate(237 2869.8)" font-size="48" text-anchor="end">0.0</text>
<text transform="translate(237 2750.9)" font-size="48" text-anchor="end">0.2</text>
<text transform="translate(237 2632)" font-size="48" text-anchor="end">0.4</text>
<text transform="translate(237 2513)" font-size="48" text-anchor="end">0.6</text>
<text transform="translate(237 2394.1)" font-size="48" text-anchor="end">0.8</text>
<text transform="translate(237 2275.2)" font-size="48" text-anchor="end">1.0</text>
<text transform="translate(237 2156.3)" font-size="48" text-anchor="end">1.2</text>
<text transform="translate(237 2037.4)" font-size="48" text-anchor="end">1.4</text>
<text transform="translate(278 2937)" font-size="48" text-anchor="middle">0</text>
<text transform="translate(470.9 2937)" font-size="48" text-anchor="middle">20</text>
<text transform="translate(663.8 2937)" font-size="48" text-anchor="middle">40</text>
<text transform="translate(856.7 2937)" font-size="48" text-anchor="middle">60</text>
<text transform="translate(1049.6 2937)" font-size="48" text-anchor="middle">80</text>
<text transform="translate(1242.4 2937)" font-size="48" text-anchor="middle">100</text>
<text transform="translate(1435.3 2937)" font-size="48" text-anchor="middle">120</text>
<text transform="translate(1628.2 2937)" font-size="48" text-anchor="middle">140</text>
<text transform="translate(1821.1 2937)" font-size="48" text-anchor="middle">160</text>
<text transform="translate(2014 2937)" font-size="48" text-anchor="middle">180</text>
<text transform="translate(2052.5 988.2)" font-size="48" fill="#800000">0</text>
<text transform="translate(2052.5 843.2)" font-size="48" fill="#800000">100</text>
<text transform="translate(2052.5 698.1)" font-size="48" fill="#800000">200</text>
<text transform="translate(2052.5 553.1)" font-size="48" fill="#800000">300</text>
<text transform="translate(2052.5 408)" font-size="48" fill="#800000">400</text>
<text transform="translate(2052.5 263)" font-size="48" fill="#800000">500</text>
<text transform="translate(2052.5 117.9)" font-size="48" fill="#800000">600</text>
<text transform="translate(88.7 514) rotate(-90) scale(1.01 1.07)" font-size="58">TG (%)</text>
<text transform="translate(77.2 1743) rotate(-90) scale(1.02 1.03)" font-size="58">Ion Current x 10<tspan font-size="37" dy="-31">10</tspan><tspan dy="31"> (A)</tspan></text>
<text transform="translate(77.2 2684) rotate(-90) scale(1.02 1.03)" font-size="58">Ion Current x 10<tspan font-size="37" dy="-31">10</tspan><tspan dy="31"> (A)</tspan></text>
<text transform="translate(2178 321) rotate(90) scale(1.028 1.08)" font-size="58" fill="#800000">Temperature (<tspan font-size="31" dy="-31">o</tspan><tspan dy="31">C)</tspan></text>
<text x="1145.5" y="3037" font-size="57" font-weight="bold" font-family="'DejaVu Sans Condensed', 'DejaVu Sans', sans-serif" text-anchor="middle" textLength="316" lengthAdjust="spacingAndGlyphs" fill="#111">Time (min)</text>
<text transform="translate(481.5 130) scale(1.03 1.0)" font-size="64">(a)</text>
<text transform="translate(1505 1103) scale(1.022 1.0)" font-size="64">(b) m/e 18 (H<tspan font-size="37" dy="25">2</tspan><tspan dy="-25">O)</tspan></text>
<text transform="translate(1522.5 2056) scale(1.015 1.0)" font-size="64">(c) m/e 15 (CH<tspan font-size="37" dy="25">4</tspan><tspan dy="-25">)</tspan></text>
<path d="M527.5 606.4H668" stroke="#ff0000" stroke-width="7" fill="none"/>
<path d="M527.5 680.2H668" stroke="#0000ff" stroke-width="7" fill="none"/>
<path d="M527.5 752.1H668" stroke="#00ff00" stroke-width="7" fill="none"/>
<path d="M527.5 825.4H668" stroke="#008000" stroke-width="7" fill="none"/>
<path d="M530.5 897.8H668" stroke="#800000" stroke-width="3.8" stroke-dasharray="16.5 13.4" fill="none"/>
<text transform="translate(678.6 625.6) scale(1.05 1.0)" font-size="57">Ru/C</text>
<text transform="translate(678.6 699.4) scale(1.05 1.0)" font-size="57">LaRu/C</text>
<text transform="translate(678.6 771.3) scale(1.05 1.0)" font-size="57">Ba0.1LaRu/C</text>
<text transform="translate(678.6 844.6) scale(1.05 1.0)" font-size="57">Ba0.2LaRu/C</text>
<text transform="translate(679.5 917.3) scale(1.066 1.0)" font-size="57">Temperature</text>
</g>
</svg>
</body>
</html>
